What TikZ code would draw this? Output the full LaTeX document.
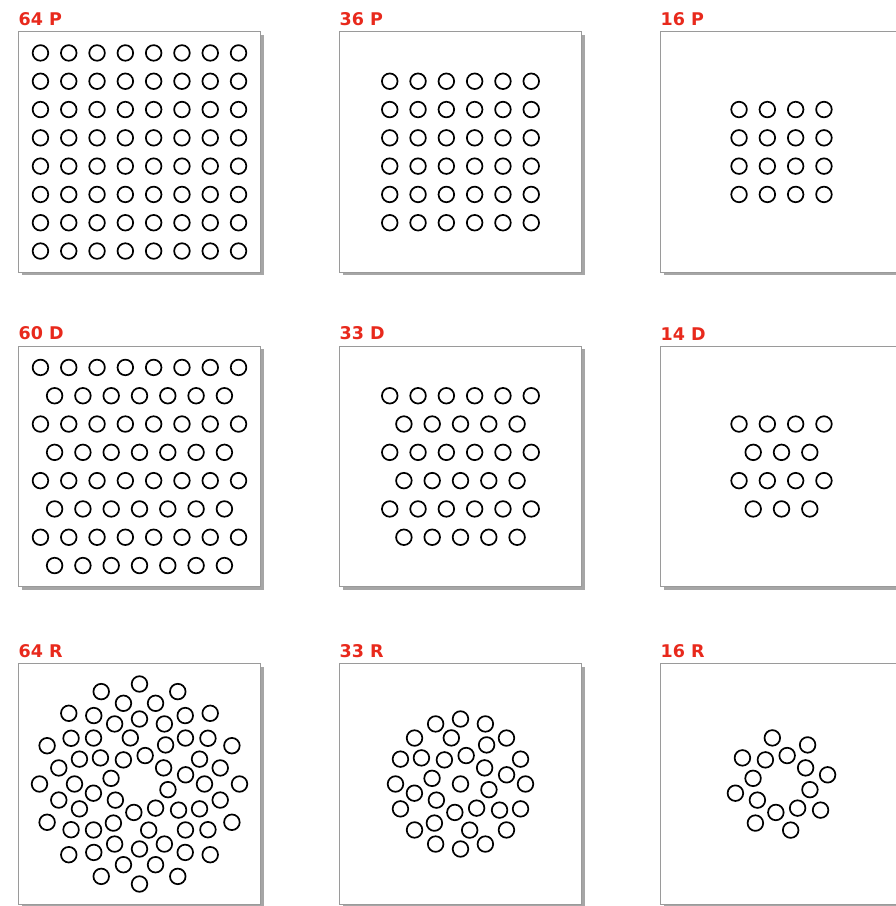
\documentclass[tikz,border=0pt]{standalone}
\usepackage{fontspec}
\newfontfamily\tagfont{DejaVu Sans}
\usepackage{xcolor}
\usepackage{tikz}
\usetikzlibrary{positioning,shadows}
\definecolor{tagred}{HTML}{E8291C}
\definecolor{rimgray}{HTML}{9A9A9A}
\newcommand{\holepitch}{28.3}

\begin{document}
\begin{tikzpicture}[x=1pt,y=1pt,
    panel/.style={draw=rimgray,fill=white,line width=1pt,inner sep=0pt,
      minimum width=242pt,minimum height=240.5pt,
      drop shadow={shadow xshift=3pt,shadow yshift=-3pt,opacity=0.7}},
    tag/.style={inner sep=0pt,text=tagred,font=\tagfont\bfseries\fontsize{17.5}{17.5}\selectfont},
    hole/.style={draw=black,line width=1.7pt}]
    \useasboundingbox (0,0) rectangle (896,906);
    % panels and their tags
    \foreach \b/\x/\y/\t in {b64p/139.5/754/64 P, b36p/460.5/754/36 P, b16p/781.5/754/16 P,
        b60d/139.5/439.5/60 D, b33d/460.5/439.5/33 D, b14d/781.5/439.5/14 D,
        b64r/139.5/122/64 R, b33r/460.5/122/33 R, b16r/781.5/122/16 R} {
      \node[panel] (\b) at (\x,\y) {};
      \node[tag,above right=5.5pt and 0.5pt of \b.north west] (t\b) {\t};
    }
    % square grids
    \foreach \b/\n in {b64p/8,b36p/6,b16p/4}
      \foreach \i in {1,...,\n}
        \foreach \j in {1,...,\n}
          \draw[hole] ([shift={({(\i-(\n+1)/2)*\holepitch},{(\j-(\n+1)/2)*\holepitch})}]\b.center) circle (7.8);
    % staggered grids
    \foreach \b/\n in {b60d/8,b33d/6,b14d/4}
      \foreach \j in {1,...,\n} {
        \pgfmathtruncatemacro{\k}{\n-mod(\j+1,2)}
        \foreach \i in {1,...,\k}
          \draw[hole] ([shift={({(\i-(\k+1)/2)*\holepitch},{((\n+1)/2-\j)*\holepitch})}]\b.center) circle (7.8);
      }
    % radial rings
    \foreach \b in {b64r,b33r,b16r}
      \foreach \a in {0,45,...,315} {
        \draw[hole] ([shift={(\a+11.25:47)}]\b.center) circle (7.8);
        \draw[hole] ([shift={(\a+33.75:29)}]\b.center) circle (7.8);
      }
    \foreach \b in {b64r,b33r}
      \foreach \a in {0,22.5,...,337.5}
        \draw[hole] ([shift={(\a:65)}]\b.center) circle (7.8);
    \foreach \a in {0,22.5,...,337.5} {
      \draw[hole] ([shift={(\a+11.25:82.3)}]b64r.center) circle (7.8);
      \draw[hole] ([shift={(\a:100)}]b64r.center) circle (7.8);
    }
    \draw[hole] (b33r.center) circle (7.8);
\end{tikzpicture}
\end{document}
